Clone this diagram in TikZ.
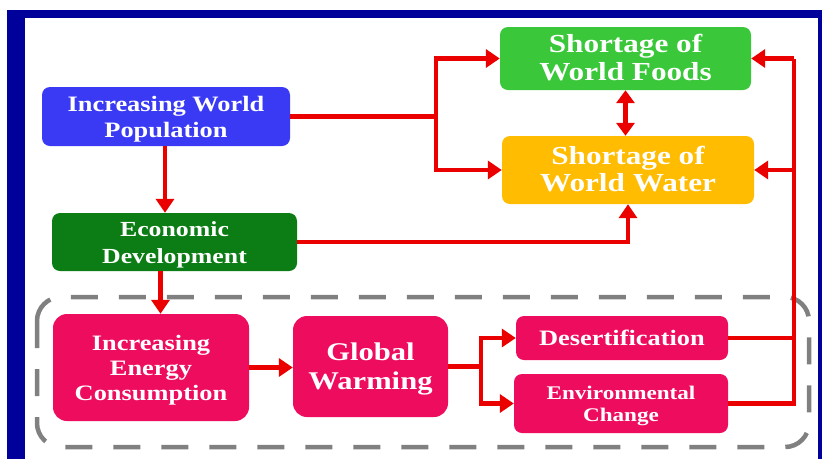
\documentclass[tikz,border=0pt]{standalone}
\usepackage{fontspec}
\usepackage{graphicx}
\setmainfont{Liberation Serif}
\usetikzlibrary{arrows.meta}
\definecolor{frameblue}{RGB}{0,0,155}
\definecolor{popblue}{RGB}{58,58,245}
\definecolor{econgreen}{RGB}{12,125,20}
\definecolor{foodgreen}{RGB}{58,200,58}
\definecolor{waterorange}{RGB}{255,188,0}
\definecolor{mag}{RGB}{238,12,95}
\definecolor{arrred}{RGB}{235,0,0}
\definecolor{dashgray}{RGB}{128,128,128}
\newcommand{\wt}[3]{\raisebox{-2.5pt}[\height][\depth]{\scalebox{1.2}[1]{\fontsize{#1}{#2}\selectfont\bfseries\begin{tabular}{@{}c@{}}#3\end{tabular}}}}
\tikzset{
  box/.style={rounded corners=8pt, inner sep=0pt, text=white},
  link/.style={draw=arrred, line width=4.5pt},
  arr/.style={link, -{Triangle[length=14pt,width=18pt]}},
  dblarr/.style={link, {Triangle[length=13pt,width=18pt]}-{Triangle[length=13pt,width=18pt]}},
  group/.style={draw=dashgray, line width=4.5pt, dash pattern=on 27pt off 21pt, rounded corners=24pt}
}
\begin{document}
\begin{tikzpicture}[x=1pt,y=-1pt]
\useasboundingbox (0,0) rectangle (822,459);
\fill[white] (0,0) rectangle (822,459);
% frame
\fill[frameblue] (7,10) rectangle (822,459);
\fill[white] (25,18) rectangle (818,459);
% dashed group
\draw[group] (37,297) rectangle (809,447);
% nodes
\node[box, fill=popblue, minimum width=248pt, minimum height=59pt] (pop) at (166,116.5) {\wt{22}{26}{Increasing World\\Population}};
\node[box, fill=econgreen, minimum width=245pt, minimum height=58pt] (econ) at (174.5,242) {\wt{21.5}{27}{Economic\\Development}};
\node[box, fill=foodgreen, minimum width=251pt, minimum height=63pt] (foods) at (625.5,58.5) {\wt{26}{27.5}{Shortage of\\World Foods}};
\node[box, fill=waterorange, minimum width=252pt, minimum height=68pt] (water) at (628,170) {\wt{26}{27.5}{Shortage of\\World Water}};
\node[box, fill=mag, rounded corners=14pt, minimum width=196pt, minimum height=107pt] (energy) at (151,367.5) {\wt{22}{25}{Increasing\\Energy\\Consumption}};
\node[box, fill=mag, rounded corners=14pt, minimum width=155pt, minimum height=101pt] (gw) at (370.5,366.5) {\wt{25.5}{29.5}{Global\\Warming}};
\node[box, fill=mag, minimum width=212pt, minimum height=44pt] (des) at (622,338) {\wt{22}{25}{Desertification}};
\node[box, fill=mag, minimum width=214pt, minimum height=59pt] (env) at (621,403.5) {\wt{19.3}{22}{Environmental\\Change}};
% junction coordinates
\coordinate (j1) at (436,116.5);
\coordinate (j2) at (481,366.5);
\coordinate (rt) at (794,0);
% connectors
\draw[link] (pop.east) -- (j1);
\draw[arr] (j1) |- (foods.west);
\draw[arr] (j1) |- (water.west);
\draw[dblarr] (foods.south) -- (foods.south |- water.north);
\draw[arr] ([xshift=-1pt]pop.south) -- ([xshift=-1pt]pop.south |- econ.north);
\draw[arr] (econ.east) -| (water.south);
\draw[arr] ([xshift=-14pt]econ.south) -- ([xshift=-14pt]econ.south |- energy.north);
\draw[arr] (energy.east) -- (energy.east -| gw.west);
\draw[link] (gw.east) -- (j2);
\draw[arr] (j2) |- (des.west);
\draw[arr] (j2) |- (env.west);
\draw[link] (des.east) -- (des.east -| rt);
\draw[link] (env.east) -- (env.east -| rt) -- (rt |- foods.east);
\draw[arr] (rt |- foods.east) -- (foods.east);
\draw[arr] (rt |- water.east) -- (water.east);
\end{tikzpicture}
\end{document}
